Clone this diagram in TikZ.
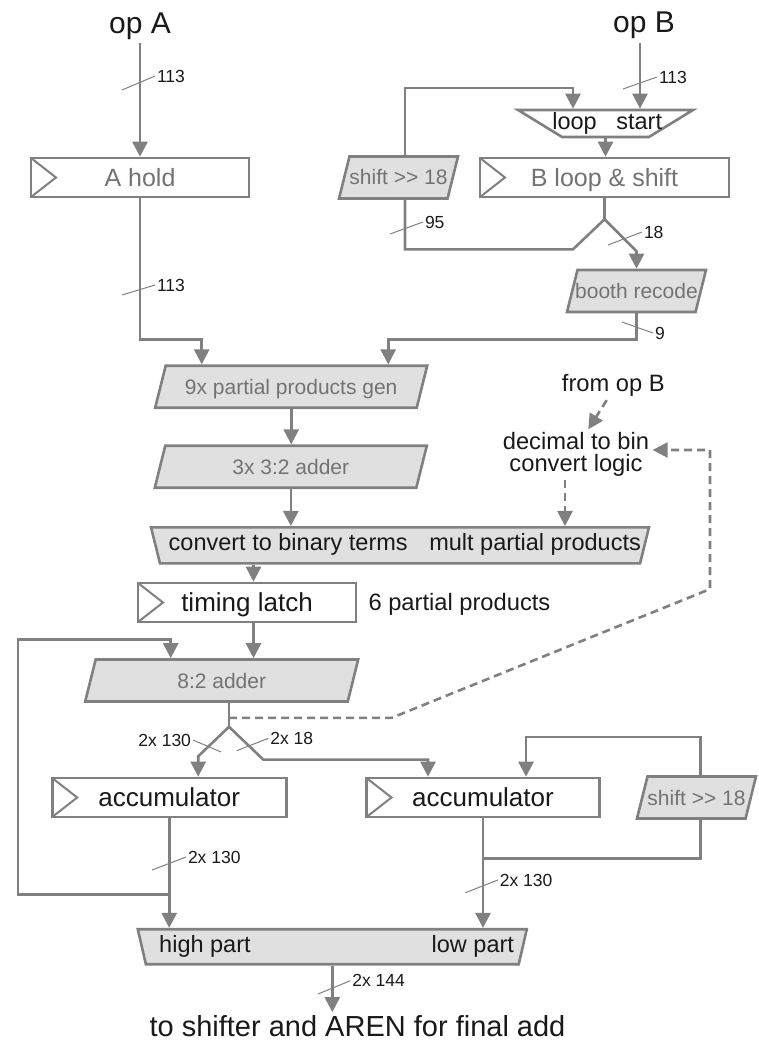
\documentclass[tikz,border=0pt]{standalone}
\usepackage{fontspec}
\setmainfont{Liberation Sans}
\usetikzlibrary{arrows.meta,shapes.geometric}
\definecolor{linegray}{RGB}{128,128,128}
\definecolor{boxgray}{RGB}{224,224,224}
\definecolor{txtgray}{RGB}{115,115,115}
\definecolor{txtblack}{RGB}{25,25,25}

\begin{document}
\begin{tikzpicture}[x=1pt,y=-1pt,
  conn/.style={draw=linegray,line width=2.6pt},
  arr/.style={conn,-{Triangle[length=15pt,width=15pt]}},
  dasharr/.style={arr,dash pattern=on 8pt off 5pt},
  slash/.style={draw=linegray,line width=1pt},
  bus/.style={font=\fontsize{17.5}{20}\selectfont,text=txtblack,anchor=west,inner sep=1.5pt},
  bigtxt/.style={font=\fontsize{30}{34}\selectfont,text=txtblack},
  midtxt/.style={font=\fontsize{23.7}{21.7}\selectfont,text=txtblack},
  reg/.style={rectangle,draw=linegray,line width=2.6pt,fill=white,inner sep=0pt,
    minimum height=39pt,text height=18pt,text depth=0pt,
    path picture={\draw[linegray,line width=2pt] (path picture bounding box.north west)
      -- ([xshift=25pt]path picture bounding box.west) -- (path picture bounding box.south west);}},
  regtxt/.style={font=\fontsize{25}{28}\selectfont,text=txtgray},
  regblk/.style={font=\fontsize{26}{29}\selectfont,text=txtblack},
  slant/.style={trapezium,trapezium left angle=76,trapezium right angle=104,
    trapezium stretches body,draw=linegray,line width=2.6pt,fill=boxgray,
    text=txtgray,font=\fontsize{21}{24}\selectfont,inner sep=0pt,
    text height=28.5pt,text depth=13.5pt},
  mux/.style={trapezium,trapezium left angle=104,trapezium right angle=104,
    trapezium stretches body,draw=linegray,line width=2.6pt,fill=boxgray,inner sep=0pt,
    text depth=0pt},
  muxtxt/.style={font=\fontsize{23.5}{26}\selectfont,text=txtblack,text height=17pt,text depth=0pt}]
  \useasboundingbox (0,0) rectangle (758,1043);

  % operands in
  \node[bigtxt,anchor=base] (opA) at (140,33.5) {op A};
  \node[bigtxt,anchor=base] (opB) at (644,33) {op B};

  % A path
  \node[reg,regtxt,minimum width=218pt] (ahold) at (140,177.5) {A hold};

  % B path
  \node[mux,fill=white,minimum width=175pt,text height=27pt,
    trapezium left angle=148.5,trapezium right angle=148.5,
    label={[muxtxt,xshift=1.7pt,yshift=2.7pt]center:loop\hspace{19.6pt}start}] (loopmux) at (605.5,123.5) {};
  \node[reg,regtxt,minimum width=249pt] (bloop) at (604.5,177.5) {B loop \& shift};
  \node[slant,minimum width=119pt] (shiftb) at (398.5,177.5) {shift >\kern0pt> 18};
  \node[slant,minimum width=139pt,inner xsep=-2.5pt] (booth) at (636.5,291) {booth recode};
  \coordinate (bsplit) at ([yshift=-21pt]bloop.south);

  % partial products
  \node[slant,minimum width=272pt] (pp9) at (291.2,386.7) {9x partial products gen};
  \node[slant,minimum width=272pt] (add3) at (290.8,466.7) {3x 3:2 adder};
  \node[midtxt,anchor=base] (fromB) at (613.3,391.7) {from op B};
  \node[midtxt,align=center] (dec) at (576,454.7) {decimal to bin\\convert logic};
  \node[mux,minimum width=498pt,text height=36pt,
    label={[muxtxt,xshift=4.8pt,yshift=3pt]center:convert to binary terms\hspace{21.6pt}mult partial products}] (conv) at (400,545.3) {};
  \node[reg,regblk,minimum width=218pt] (latch) at (247,602.5) {timing latch};
  \node[midtxt,anchor=base west] (ppnote) at (365,610.5) {6 partial products};

  % accumulate
  \node[slant,minimum width=273pt] (add8) at (221.7,680.5) {8:2 adder};
  \coordinate (asplit) at ([xshift=7.3pt,yshift=-24pt]add8.south);
  \node[reg,regblk,minimum width=234pt] (acc1) at (169.2,797.5) {accumulator};
  \node[reg,regblk,minimum width=233pt] (acc2) at (483,797.5) {accumulator};
  \node[slant,minimum width=118pt] (shiftr) at (696.5,797.5) {shift >\kern0pt> 18};
  \coordinate (fb) at ([yshift=-76pt]acc1.south);
  \coordinate (jn) at ([yshift=-40pt]acc2.south);
  \node[mux,minimum width=389pt,text height=35pt,
    trapezium left angle=103,trapezium right angle=103,
    label={[muxtxt,xshift=4.3pt,yshift=2.5pt]center:high part\hspace{181pt}low part}] (outmux) at (332.3,946.7) {};
  \node[font=\fontsize{29}{33}\selectfont,text=txtblack,anchor=base] (outtxt) at (357.5,1036.7) {to shifter and AREN for final add};

  % connectors
  \draw[arr] (opA.south) -- (opA.south |- ahold.north);
  \draw[arr] (ahold.south) -- ++(0,141) -| ([xshift=-89.5pt]pp9.north);
  \draw[arr] ([xshift=34.5pt]loopmux.north |- opB.south) -- ([xshift=34.5pt]loopmux.north);
  \draw[arr] (loopmux.south) -- (loopmux.south |- bloop.north);
  \draw[conn] (bloop.south) -- (bsplit);
  \draw[arr] (bsplit) -- ++(32,32) -- (booth.north);
  \draw[conn] (bsplit) -- ++(-31.5,30) -- ++(-168,0) -- ([xshift=6.5pt]shiftb.south);
  \draw[arr] ([xshift=6.5pt]shiftb.north) -- ++(0,-67) -| ([xshift=-32.5pt]loopmux.north);
  \draw[arr] (booth.south) -- ++(0,26.3) -| ([xshift=97pt]pp9.north);
  \draw[arr] (pp9.south) -- (pp9.south |- add3.north);
  \draw[arr] (add3.south) -- (add3.south |- conv.north);
  \draw[arr] ([xshift=6.5pt]latch.north |- conv.south) -- ([xshift=6.5pt]latch.north);
  \draw[arr] ([xshift=6.5pt]latch.south) -- ([xshift=6.5pt]latch.south |- add8.north);
  \draw[conn] ([xshift=7.3pt]add8.south) -- (asplit);
  \draw[arr] (asplit) -- ++(-30.8,29.5) -- ([xshift=29pt]acc1.north);
  \draw[arr] (asplit) -- ++(34.3,32.8) -| ([xshift=-55pt]acc2.north);
  \draw[arr] (acc1.south) -- (acc1.south |- outmux.north);
  \draw[arr] (fb) -- ++(-151.3,0) -- ++(0,-254.7) -| ([xshift=-51pt]add8.north);
  \draw[arr] (acc2.south) -- (acc2.south |- outmux.north);
  \draw[arr] ([xshift=4.2pt]shiftr.north) -- ++(0,-38.4) -| ([xshift=43pt]acc2.north);
  \draw[conn] ([xshift=4.2pt]shiftr.south) |- (jn);
  \draw[arr] (outmux.south) -- (outmux.south |- outtxt.north);

  % decimal to binary control
  \draw[dasharr] ([xshift=-6.6pt]fromB.south) -- ([xshift=12.3pt]dec.north);
  \draw[dasharr] ([xshift=-11pt]dec.south) -- ([xshift=-11pt]dec.south |- conv.north);
  \draw[dasharr] ([xshift=7.3pt,yshift=-15pt]add8.south) -- ++(162.7,0) -- ++(318.3,-128.7) |- ([yshift=4.7pt]dec.east);

  % bus widths
  \draw[slash] (122,90) -- (155,76) node[bus] {113};
  \draw[slash] (122,295) -- (155,285) node[bus] {113};
  \draw[slash] (623,89) -- (657,77) node[bus] {113};
  \draw[slash] (390,234) -- (423,222) node[bus] {95};
  \draw[slash] (608,245) -- (642,232) node[bus] {18};
  \draw[slash] (622,322) -- (653,333) node[bus] {9};
  \draw[slash] (221,752) -- (193,740) node[bus,anchor=east] {2x 130};
  \draw[slash] (236.7,750.7) -- (268.3,738.3) node[bus] {2x 18};
  \draw[slash] (152,870) -- (186,857) node[bus] {2x 130};
  \draw[slash] (465.4,892.7) -- (497.8,880) node[bus] {2x 130};
  \draw[slash] (318,994) -- (350.4,980.7) node[bus] {2x 144};
\end{tikzpicture}
\end{document}
